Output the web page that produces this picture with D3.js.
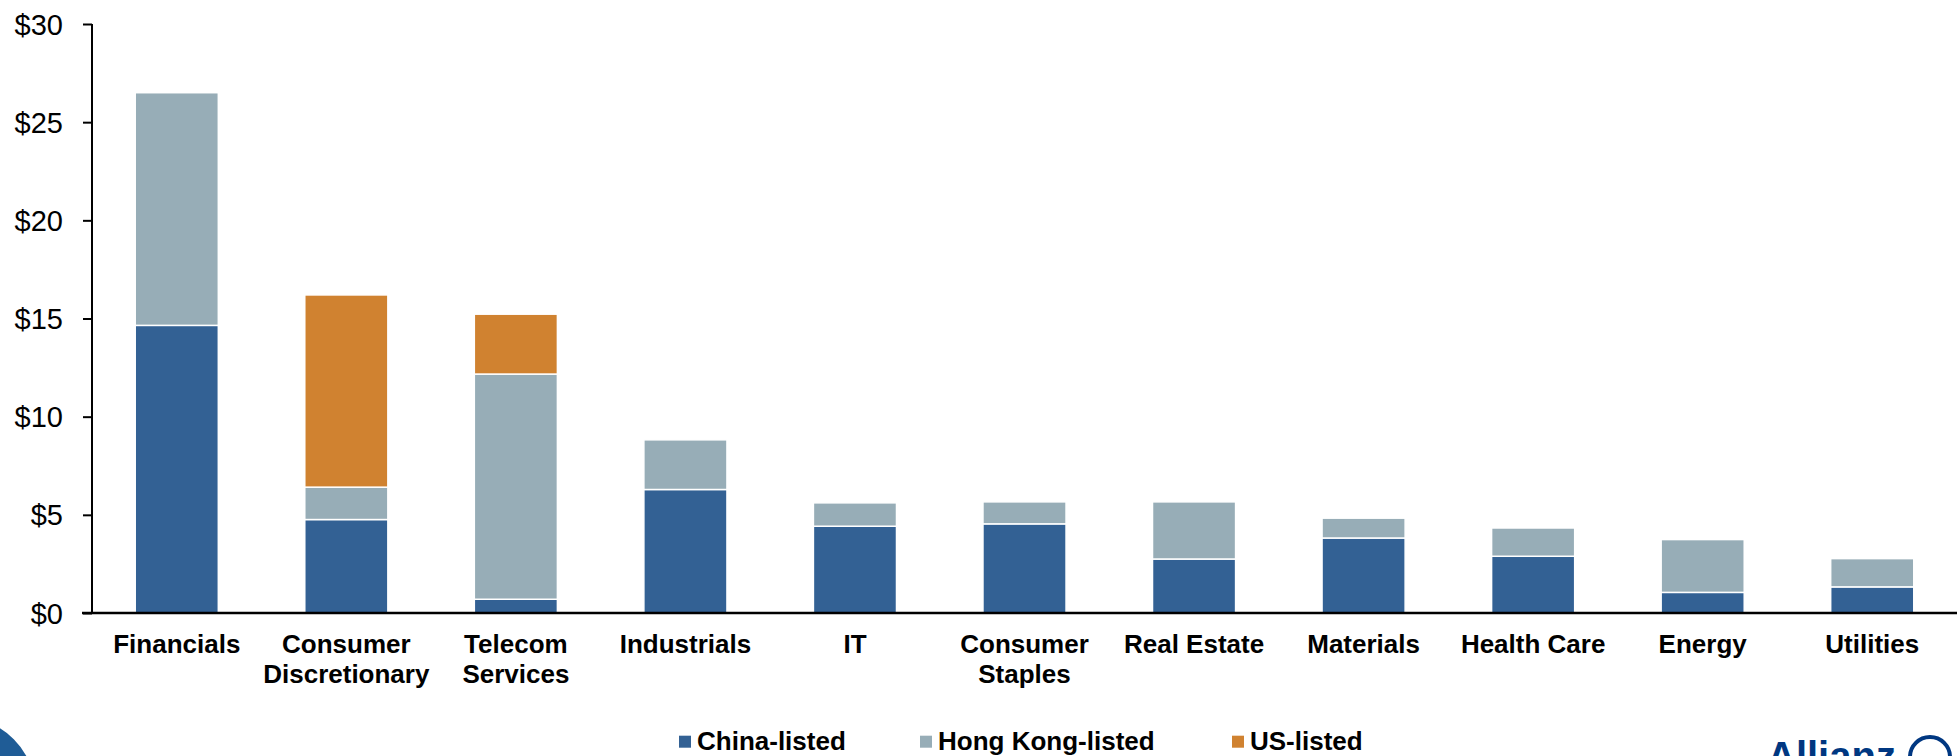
<!DOCTYPE html>
<html>
<head>
<meta charset="utf-8">
<script src="https://cdn.jsdelivr.net/npm/d3@7"></script>
<style>
  html, body { margin: 0; padding: 0; background: #fff; }
  svg { display: block; }
  text { font-family: "Liberation Sans", Arial, sans-serif; }
</style>
</head>
<body>
<svg id="chart" width="1957" height="756"></svg>
<script>
const categories = ["Financials", "Consumer\nDiscretionary", "Telecom\nServices", "Industrials", "IT",
  "Consumer\nStaples", "Real Estate", "Materials", "Health Care", "Energy", "Utilities"];
const chinaListed    = [14.65, 4.76, 0.70, 6.29, 4.42, 4.54, 2.75, 3.82, 2.89, 1.05, 1.33];
const hongKongListed = [11.85, 1.65, 11.47, 2.53, 1.19, 1.12, 2.91, 1.01, 1.44, 2.69, 1.44];
const usListed       = [0, 9.79, 3.05, 0, 0, 0, 0, 0, 0, 0, 0];
const seriesNames = ["China-listed", "Hong Kong-listed", "US-listed"];
const seriesColors = ["#336194", "#97adb7", "#d08230"];
const yTicks = [0, 5, 10, 15, 20, 25, 30];

(function () {
const svg = d3.select("#chart");
const mLeft = 92, mRight = 1957, mTop = 24, mBottom = 613;

const rows = categories.map((c, i) => ({
  cat: c, "China-listed": chinaListed[i], "Hong Kong-listed": hongKongListed[i], "US-listed": usListed[i]
}));
const stack = d3.stack().keys(seriesNames)(rows);

const x = d3.scaleBand().domain(categories).range([mLeft, mRight])
  .paddingInner(0.51).paddingOuter(0.255);
const y = d3.scaleLinear().domain([0, 30]).range([mBottom, mTop]);

// bars
svg.append("g").selectAll("g").data(stack).join("g")
  .attr("fill", (d, i) => seriesColors[i])
  .selectAll("rect").data(d => d.filter(s => s[1] - s[0] > 0)).join("rect")
  .attr("x", d => x(d.data.cat))
  .attr("width", x.bandwidth())
  .attr("y", d => y(d[1]))
  .attr("height", d => y(d[0]) - y(d[1]))
  .attr("stroke", "#fff")
  .attr("stroke-width", 1.5);

// y axis
const yAxis = svg.append("g").attr("transform", `translate(${mLeft},0)`)
  .call(d3.axisLeft(y).tickValues(yTicks).tickSize(9).tickPadding(20).tickFormat(d => "$" + d));
yAxis.select(".domain").attr("stroke", "#000").attr("stroke-width", 2)
  .attr("d", `M0,${mTop}V${mBottom}`);
yAxis.selectAll(".tick line").attr("stroke", "#000").attr("stroke-width", 2);
yAxis.selectAll(".tick text").attr("font-size", 29).attr("fill", "#000")
  .attr("font-family", "'Liberation Sans', Arial, sans-serif").attr("dy", "0.35em");

// x axis
const xAxis = svg.append("g").attr("transform", `translate(0,${mBottom})`)
  .call(d3.axisBottom(x).tickSize(0).tickFormat(""));
xAxis.select(".domain").attr("stroke", "#000").attr("stroke-width", 2.5)
  .attr("d", `M${mLeft - 10},0H${mRight}`);
xAxis.selectAll(".tick text").remove();
xAxis.selectAll(".tick").each(function (d) {
  const t = d3.select(this).append("text")
    .attr("text-anchor", "middle").attr("font-size", 26).attr("font-weight", "bold")
    .attr("fill", "#000").attr("font-family", "'Liberation Sans', Arial, sans-serif");
  d.split("\n").forEach((line, i) => {
    t.append("tspan").attr("x", 0).attr("y", 40 + i * 30).text(line);
  });
});

// legend
const legendX = [679, 920, 1232];
const lg = svg.append("g").selectAll("g").data(seriesNames).join("g")
  .attr("transform", (d, i) => `translate(${legendX[i]},750)`);
lg.append("rect").attr("x", 0).attr("y", -14.3).attr("width", 12).attr("height", 12)
  .attr("fill", (d, i) => seriesColors[i]);
lg.append("text").attr("x", 18).attr("y", 0).attr("font-size", 26).attr("font-weight", "bold")
  .attr("fill", "#000").text(d => d);

// logos (partially visible)
svg.append("circle").attr("cx", -35).attr("cy", 788).attr("r", 58)
  .attr("fill", "none").attr("stroke", "#1f5c96").attr("stroke-width", 22);
svg.append("text").attr("x", 1767).attr("y", 770).attr("font-size", 40).attr("font-weight", "bold")
  .attr("fill", "#003781").text("Allianz");
svg.append("circle").attr("cx", 1930).attr("cy", 757).attr("r", 20)
  .attr("fill", "none").attr("stroke", "#003781").attr("stroke-width", 4);
})();
</script>
</body>
</html>
